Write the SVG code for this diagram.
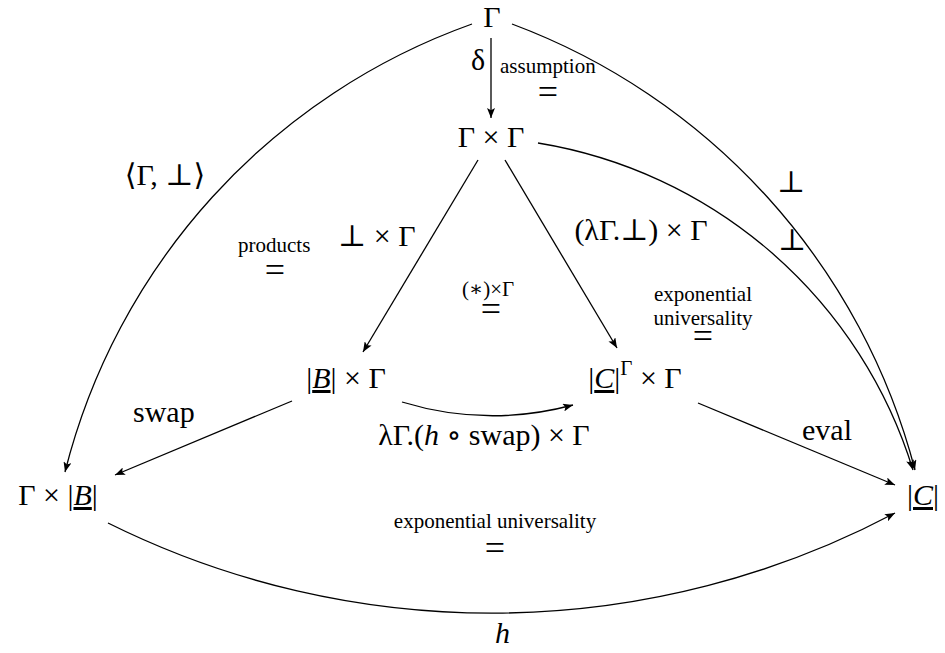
<svg xmlns="http://www.w3.org/2000/svg" width="945" height="653" viewBox="0 0 945 653">
<style>
text{font-family:"Liberation Serif","DejaVu Serif",serif;fill:#000}
.m{font-size:30px}
.s{font-size:21px}
.eq{font-size:36px}
.i{font-style:italic}
.u{text-decoration:underline}
.c{text-anchor:middle}
.e{fill:none;stroke:#000;stroke-width:1.3;marker-end:url(#ah)}
</style>
<defs>
<marker id="ah" viewBox="0 0 10 8" refX="10" refY="4" markerWidth="11" markerHeight="8" markerUnits="userSpaceOnUse" orient="auto">
<path d="M0,0 L10,4 L0,8 L2.2,4 z" fill="#000"/>
</marker>
</defs>
<rect width="945" height="653" fill="#fff"/>
<g id="connectors">
<path class="e" d="M491,38 L491,118"/>
<path class="e" d="M472,24 A642,642 0 0,0 65,472"/>
<path class="e" d="M512,24 A652,652 0 0,1 915,470"/>
<path class="e" d="M538,143 A472,472 0 0,1 913,470"/>
<path class="e" d="M108,523 A862,862 0 0,0 895,513"/>
<path class="e" d="M402,402 A311,311 0 0,0 573,405"/>
<path class="e" d="M478,160 L363,352"/>
<path class="e" d="M505,160 L617,348"/>
<path class="e" d="M292,401 L115,475"/>
<path class="e" d="M698,403 L895,485"/>
</g>
<g id="node-gamma"><text class="m c" x="492" y="27">Γ</text></g>
<g id="node-gamma-gamma"><text class="m c" x="491" y="147">Γ × Γ</text></g>
<g id="node-B-gamma"><text class="m c" x="346" y="388">|<tspan class="i u">B</tspan>| × Γ</text></g>
<g id="node-C-exp"><text class="m c" x="635" y="388">|<tspan class="i u">C</tspan>|<tspan class="s" dy="-13">Γ</tspan><tspan dy="13"> × Γ</tspan></text></g>
<g id="node-gamma-B"><text class="m c" x="58" y="505">Γ × |<tspan class="i u">B</tspan>|</text></g>
<g id="node-C"><text class="m c" x="923" y="505">|<tspan class="i u">C</tspan>|</text></g>
<g id="labels">
<text class="m" x="471" y="70">δ</text>
<text class="s" x="500" y="73">assumption</text>
<text class="eq c" x="548" y="104">=</text>
<text class="m c" x="165" y="185">⟨Γ, ⊥⟩</text>
<text class="s" x="238" y="252">products</text>
<text class="eq c" x="275" y="282">=</text>
<text class="m" x="338" y="246">⊥ × Γ</text>
<text class="s c" x="488" y="296">(∗)×Γ</text>
<text class="eq c" x="491" y="321">=</text>
<text class="m c" x="641" y="240">(λΓ.⊥) × Γ</text>
<text class="m" x="777" y="192">⊥</text>
<text class="m" x="778" y="250">⊥</text>
<text class="s c" x="703" y="301">exponential</text>
<text class="s c" x="703" y="325">universality</text>
<text class="eq c" x="703" y="348">=</text>
<text class="m" x="133" y="422">swap</text>
<text class="m c" x="484" y="445">λΓ.(<tspan class="i">h</tspan> ∘ swap) × Γ</text>
<text class="m" x="802" y="440">eval</text>
<text class="s c" x="495" y="528">exponential universality</text>
<text class="eq c" x="495" y="560">=</text>
<text class="m i" x="495" y="643">h</text>
</g>
</svg>
